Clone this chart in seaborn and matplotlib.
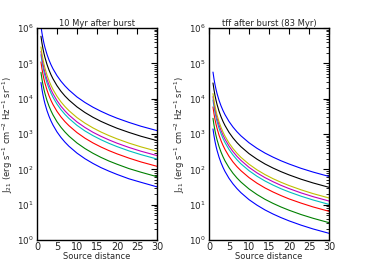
import numpy as np
import pandas as pd
import matplotlib
matplotlib.use("Agg")
import matplotlib.pyplot as plt
import seaborn as sns
from matplotlib.ticker import FixedLocator, NullFormatter, MultipleLocator

distance = [1, 1.25, 1.5, 1.75, 2, 2.5, 3, 3.5, 4, 5, 6, 7, 8, 10, 12, 14, 16, 18, 20, 23, 26, 30]

# left panel: 10 Myr after burst (series listed from bottom to top)
left_series = {
    "s1": [2.88e4, 1.84e4, 1.28e4, 9.4e3, 7.2e3, 4.6e3, 3.2e3, 2.35e3, 1.8e3, 1.15e3, 800,
           588, 450, 288, 200, 147, 112, 89, 72, 54, 43, 32],
    "s2": [5.58e4, 3.57e4, 2.48e4, 1.82e4, 1.4e4, 8.9e3, 6.2e3, 4.56e3, 3.49e3, 2.23e3, 1.55e3,
           1.14e3, 872, 558, 388, 285, 218, 172, 140, 105, 83, 62],
    "s3": [1.1e5, 7.03e4, 4.88e4, 3.59e4, 2.75e4, 1.76e4, 1.22e4, 8.96e3, 6.86e3, 4.39e3, 3.05e3,
           2.24e3, 1.72e3, 1.1e3, 762, 560, 429, 339, 275, 208, 162, 122],
    "s4": [1.76e5, 1.13e5, 7.84e4, 5.76e4, 4.41e4, 2.82e4, 1.96e4, 1.44e4, 1.1e4, 7.06e3, 4.9e3,
           3.6e3, 2.76e3, 1.76e3, 1.22e3, 900, 689, 544, 441, 333, 261, 196],
    "s5": [2.2e5, 1.41e5, 9.8e4, 7.2e4, 5.51e4, 3.53e4, 2.45e4, 1.8e4, 1.38e4, 8.82e3, 6.12e3,
           4.5e3, 3.44e3, 2.2e3, 1.53e3, 1.12e3, 861, 681, 551, 417, 326, 245],
    "s6": [2.92e5, 1.87e5, 1.3e5, 9.55e4, 7.31e4, 4.68e4, 3.25e4, 2.39e4, 1.83e4, 1.17e4, 8.12e3,
           5.97e3, 4.57e3, 2.92e3, 2.03e3, 1.49e3, 1.14e3, 903, 731, 553, 433, 325],
    "s7": [5.85e5, 3.74e5, 2.6e5, 1.91e5, 1.46e5, 9.36e4, 6.5e4, 4.78e4, 3.66e4, 2.34e4, 1.62e4,
           1.19e4, 9.14e3, 5.85e3, 4.06e3, 2.98e3, 2.28e3, 1.81e3, 1.46e3, 1.11e3, 865, 650],
    "s8": [1.12e6, 7.2e5, 5.0e5, 3.67e5, 2.81e5, 1.8e5, 1.25e5, 9.18e4, 7.03e4, 4.5e4, 3.12e4,
           2.3e4, 1.76e4, 1.12e4, 7.81e3, 5.74e3, 4.4e3, 3.47e3, 2.81e3, 2.13e3, 1.66e3, 1250],
}

# right panel: tff after burst (83 Myr)
right_series = {
    "s1": [1395, 893, 620, 455, 349, 223, 155, 114, 87.2, 55.8, 38.8,
           28.5, 21.8, 13.9, 9.7, 7.1, 5.45, 4.31, 3.49, 2.64, 2.06, 1.55],
    "s2": [2790, 1786, 1240, 911, 698, 446, 310, 228, 174, 112, 77.5,
           56.9, 43.6, 27.9, 19.4, 14.2, 10.9, 8.61, 6.98, 5.27, 4.13, 3.1],
    "s3": [5850, 3744, 2600, 1910, 1463, 936, 650, 478, 366, 234, 162,
           119, 91.4, 58.5, 40.6, 29.8, 22.9, 18.1, 14.6, 11.1, 8.65, 6.5],
    "s4": [9180, 5875, 4080, 2998, 2295, 1469, 1020, 749, 574, 367, 255,
           187, 143, 91.8, 63.8, 46.8, 35.9, 28.3, 23.0, 17.4, 13.6, 10.2],
    "s5": [11430, 7315, 5080, 3733, 2858, 1829, 1270, 933, 714, 457, 318,
           233, 179, 114, 79.4, 58.3, 44.7, 35.3, 28.6, 21.6, 16.9, 12.7],
    "s6": [13950, 8928, 6200, 4555, 3488, 2232, 1550, 1139, 872, 558, 388,
           285, 218, 140, 96.9, 71.2, 54.5, 43.1, 34.9, 26.4, 20.6, 15.5],
    "s7": [27900, 17860, 12400, 9111, 6975, 4464, 3100, 2278, 1744, 1116, 775,
           570, 436, 279, 194, 142, 109, 86.1, 69.8, 52.7, 41.3, 31],
    "s8": [56700, 36290, 25200, 18516, 14175, 9072, 6300, 4629, 3544, 2268, 1575,
           1157, 886, 567, 394, 289, 222, 175, 142, 107, 83.9, 63],
}

titles = ["10 Myr after burst", "tff after burst (83 Myr)"]
y_major = [1e0, 1e1, 1e2, 1e3, 1e4, 1e5, 1e6]

# classic matplotlib colour cycle b, g, r, c, m, y, k, b
palette = ["#0000ff", "#008000", "#ff0000", "#00bfbf", "#bf00bf", "#bfbf00", "#000000", "#0000ff"]


def to_long(series):
    rows = []
    for name, vals in series.items():
        for d, v in zip(distance, vals):
            rows.append({"distance": d, "J21": v, "series": name})
    return pd.DataFrame(rows)


sns.set_style("white")
plt.rcParams.update({
    "font.family": ["DejaVu Sans"],
    "font.size": 6,
    "xtick.direction": "in",
    "ytick.direction": "in",
    "xtick.top": True,
    "ytick.right": True,
    "xtick.major.size": 4,
    "ytick.major.size": 4,
    "xtick.minor.size": 2,
    "ytick.minor.size": 2,
    "axes.linewidth": 1.0,
})

fig = plt.figure(figsize=(3.66, 2.67), dpi=100)
ax_l = fig.add_axes([0.101, 0.101, 0.328, 0.794])
ax_r = fig.add_axes([0.571, 0.101, 0.328, 0.794])

for ax, series, title in zip([ax_l, ax_r], [left_series, right_series], titles):
    df = to_long(series)
    sns.lineplot(data=df, x="distance", y="J21", hue="series",
                 palette=palette, estimator=None, sort=False,
                 linewidth=0.8, legend=False, ax=ax)
    ax.set_yscale("log")
    ax.set_xlim(0, 30)
    ax.set_ylim(1, 1e6)
    ax.xaxis.set_major_locator(MultipleLocator(5))
    ax.yaxis.set_major_locator(FixedLocator(y_major))
    minors = [m * t for t in y_major[:-1] for m in range(2, 10)]
    ax.yaxis.set_minor_locator(FixedLocator(minors))
    ax.yaxis.set_minor_formatter(NullFormatter())
    ax.tick_params(axis="both", which="both", color="black")
    ax.tick_params(axis="x", labelsize=7, pad=1.5)
    ax.tick_params(axis="y", labelsize=6.3, pad=2.5)
    ax.set_title(title, fontsize=6, pad=1.5)
    ax.set_xlabel("Source distance", fontsize=6, labelpad=0)
    ax.set_ylabel(r"J$_{21}$ (erg s$^{-1}$ cm$^{-2}$ Hz$^{-1}$ sr$^{-1}$)", fontsize=6, labelpad=1)
    for sp in ax.spines.values():
        sp.set_color("black")

fig.savefig("out.png", dpi=100)
